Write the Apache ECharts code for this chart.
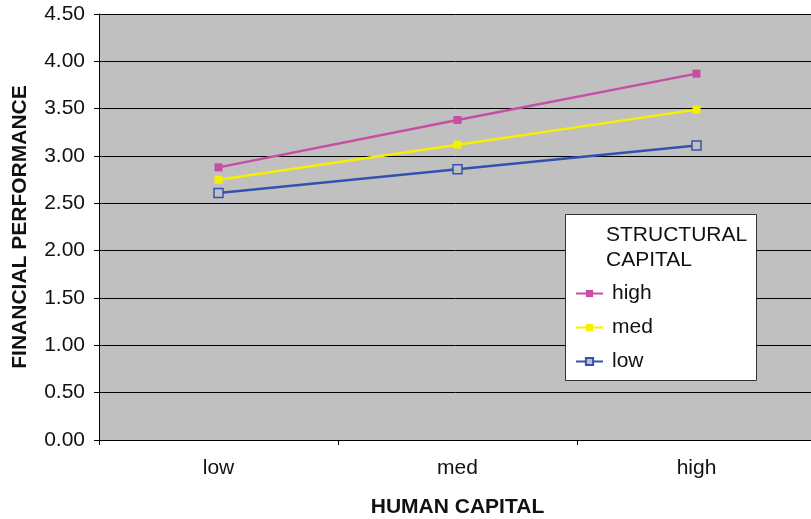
<!DOCTYPE html>
<html>
<head>
<meta charset="utf-8">
<script src="https://cdn.jsdelivr.net/npm/echarts@6/dist/echarts.min.js"></script>
<style>
  html, body { margin: 0; padding: 0; background: #fff; }
  #chart { width: 811px; height: 519px; }
</style>
</head>
<body>
<div id="chart"></div>
<script>
// Human capital levels on the x axis
const categories = ['low', 'med', 'high'];
// Financial performance by structural capital level
const highValues = [2.88, 3.38, 3.87];
const medValues = [2.75, 3.12, 3.49];
const lowValues = [2.61, 2.86, 3.11];
// Y axis range
const yMin = 0, yMax = 4.5, yStep = 0.5;

const FONT = '"Liberation Sans", Arial, sans-serif';
const chart = echarts.init(document.getElementById('chart'), null, { renderer: 'canvas' });

function lineSeries(name, data, color, hollow) {
  return {
    name: name,
    type: 'line',
    data: data,
    symbol: 'rect',
    symbolSize: hollow ? 9 : 8,
    showSymbol: true,
    lineStyle: { color: color, width: 2.5 },
    itemStyle: hollow
      ? { color: '#c0c0c0', borderColor: color, borderWidth: 1.5 }
      : { color: color, borderWidth: 0 },
    emphasis: { disabled: true },
    animation: false
  };
}

chart.setOption({
  animation: false,
  grid: {
    left: 99, top: 14, width: 717, height: 426,
    containLabel: false,
    outerBoundsMode: 'none',
    show: true, backgroundColor: '#c0c0c0', borderWidth: 0
  },
  xAxis: {
    type: 'category',
    data: categories,
    boundaryGap: true,
    axisLine: { lineStyle: { color: '#000', width: 1 } },
    axisTick: { show: true, length: 5, lineStyle: { color: '#000' } },
    axisLabel: { color: '#111', fontSize: 21, fontFamily: FONT, margin: 18 },
    name: 'HUMAN CAPITAL',
    nameLocation: 'middle',
    nameGap: 57,
    nameTextStyle: { color: '#111', fontSize: 21, fontWeight: 'bold', fontFamily: FONT }
  },
  yAxis: {
    type: 'value',
    min: yMin, max: yMax, interval: yStep,
    axisLine: { show: true, lineStyle: { color: '#000', width: 1 } },
    axisTick: { show: true, length: 5, lineStyle: { color: '#000' } },
    splitLine: { show: true, lineStyle: { color: '#000', width: 1 } },
    axisLabel: {
      color: '#111', fontSize: 21, fontFamily: FONT, margin: 14,
      formatter: v => v.toFixed(2)
    },
    name: 'FINANCIAL PERFORMANCE',
    nameLocation: 'middle',
    nameGap: 68,
    nameTextStyle: { color: '#111', fontSize: 21, fontWeight: 'bold', fontFamily: FONT }
  },
  legend: {
    orient: 'vertical',
    left: 570, top: 278,
    itemWidth: 27, itemHeight: 9,
    itemGap: 13,
    textStyle: { color: '#111', fontSize: 21, fontFamily: FONT, padding: [0, 0, 0, 4] },
    data: ['high', 'med', 'low'],
    selectedMode: false,
    z: 20
  },
  graphic: [
    {
      type: 'rect', z: 15,
      shape: { x: 565.5, y: 214.5, width: 191, height: 166 },
      style: { fill: '#fff', stroke: '#333', lineWidth: 1 }
    },
    {
      type: 'text', z: 16, left: 606, top: 223,
      style: {
        text: 'STRUCTURAL\nCAPITAL', fill: '#111',
        font: '21px ' + FONT, lineHeight: 25
      }
    }
  ],
  series: [
    lineSeries('high', highValues, '#c64fa3', false),
    lineSeries('med', medValues, '#f5f000', false),
    lineSeries('low', lowValues, '#3551b0', true)
  ]
});
</script>
</body>
</html>
